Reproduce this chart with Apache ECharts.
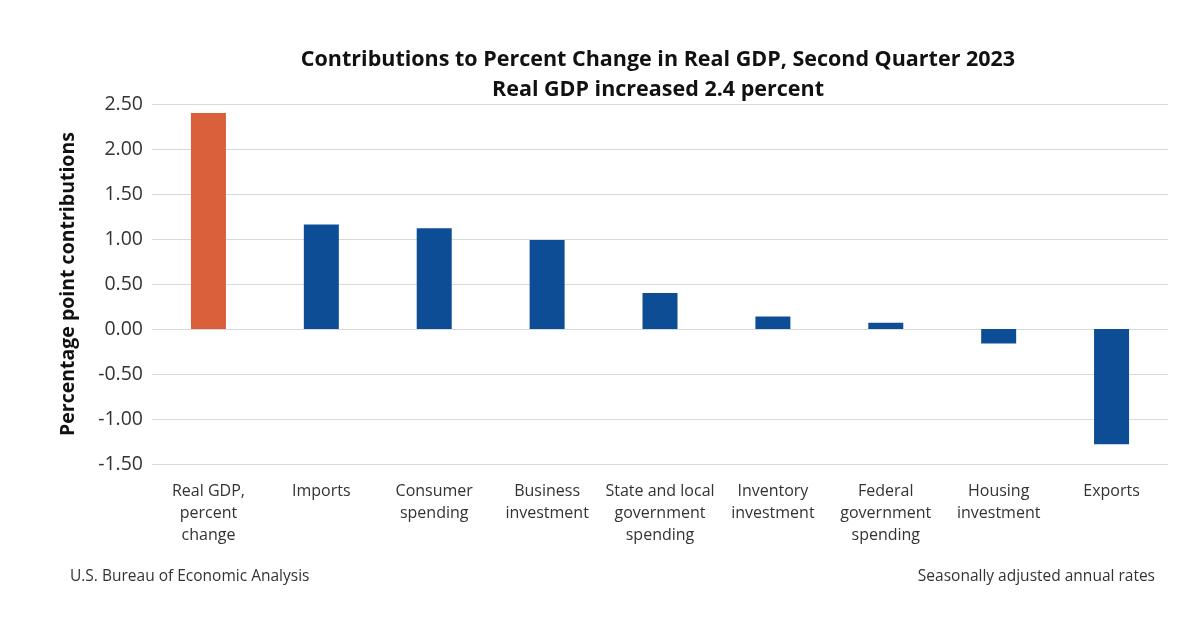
<!DOCTYPE html>
<html>
<head>
<meta charset="utf-8">
<script src="https://cdn.jsdelivr.net/npm/echarts@6/dist/echarts.min.js"></script>
<style>
  html, body { margin: 0; padding: 0; background: #fff; }
  #main { width: 1200px; height: 619px; }
</style>
</head>
<body>
<div id="main"></div>
<script>
var categories = ['Real GDP,\npercent\nchange', 'Imports', 'Consumer\nspending', 'Business\ninvestment',
  'State and local\ngovernment\nspending', 'Inventory\ninvestment', 'Federal\ngovernment\nspending',
  'Housing\ninvestment', 'Exports'];
var contributions = [2.40, 1.16, 1.12, 0.99, 0.40, 0.14, 0.07, -0.16, -1.28];
var barColors = ['#d9603b', '#0c4d96', '#0c4d96', '#0c4d96', '#0c4d96', '#0c4d96', '#0c4d96', '#0c4d96', '#0c4d96'];

var font = '"Open Sans", "Liberation Sans", sans-serif';
var chart = echarts.init(document.getElementById('main'));

chart.setOption({
  animation: false,
  backgroundColor: '#fff',
  title: {
    text: 'Contributions to Percent Change in Real GDP, Second Quarter 2023\nReal GDP increased 2.4 percent',
    left: 653,
    top: 40,
    textAlign: 'center',
    textStyle: { fontFamily: font, fontSize: 21.5, fontWeight: 'bold', color: '#111', lineHeight: 30 }
  },
  grid: { left: 152, right: 32, top: 104, bottom: 155 },
  xAxis: {
    type: 'category',
    data: categories,
    axisLine: { show: false },
    axisTick: { show: false },
    axisLabel: {
      fontFamily: font, fontSize: 16, color: '#333', lineHeight: 22,
      interval: 0, margin: 16, verticalAlign: 'top'
    }
  },
  yAxis: {
    type: 'value',
    min: -1.5,
    max: 2.5,
    interval: 0.5,
    name: 'Percentage point contributions',
    nameLocation: 'middle',
    nameGap: 74,
    nameTextStyle: { fontFamily: font, fontSize: 19.5, fontWeight: 'bold', color: '#111' },
    axisLine: { show: false },
    axisTick: { show: false },
    axisLabel: {
      fontFamily: font, fontSize: 19.5, color: '#333', margin: 9,
      formatter: function (v) { return v.toFixed(2); }
    },
    splitLine: { lineStyle: { color: '#d9d9d9', width: 1 } }
  },
  series: [{
    type: 'bar',
    data: contributions.map(function (v, i) {
      return { value: v, itemStyle: { color: barColors[i] } };
    }),
    barWidth: 35
  }],
  graphic: [
    { type: 'text', left: 70, top: 569,
      style: { text: 'U.S. Bureau of Economic Analysis', font: '15.5px ' + font, fill: '#333' } },
    { type: 'text', right: 45, top: 569,
      style: { text: 'Seasonally adjusted annual rates', font: '15.5px ' + font, fill: '#333' } }
  ]
});
</script>
</body>
</html>
